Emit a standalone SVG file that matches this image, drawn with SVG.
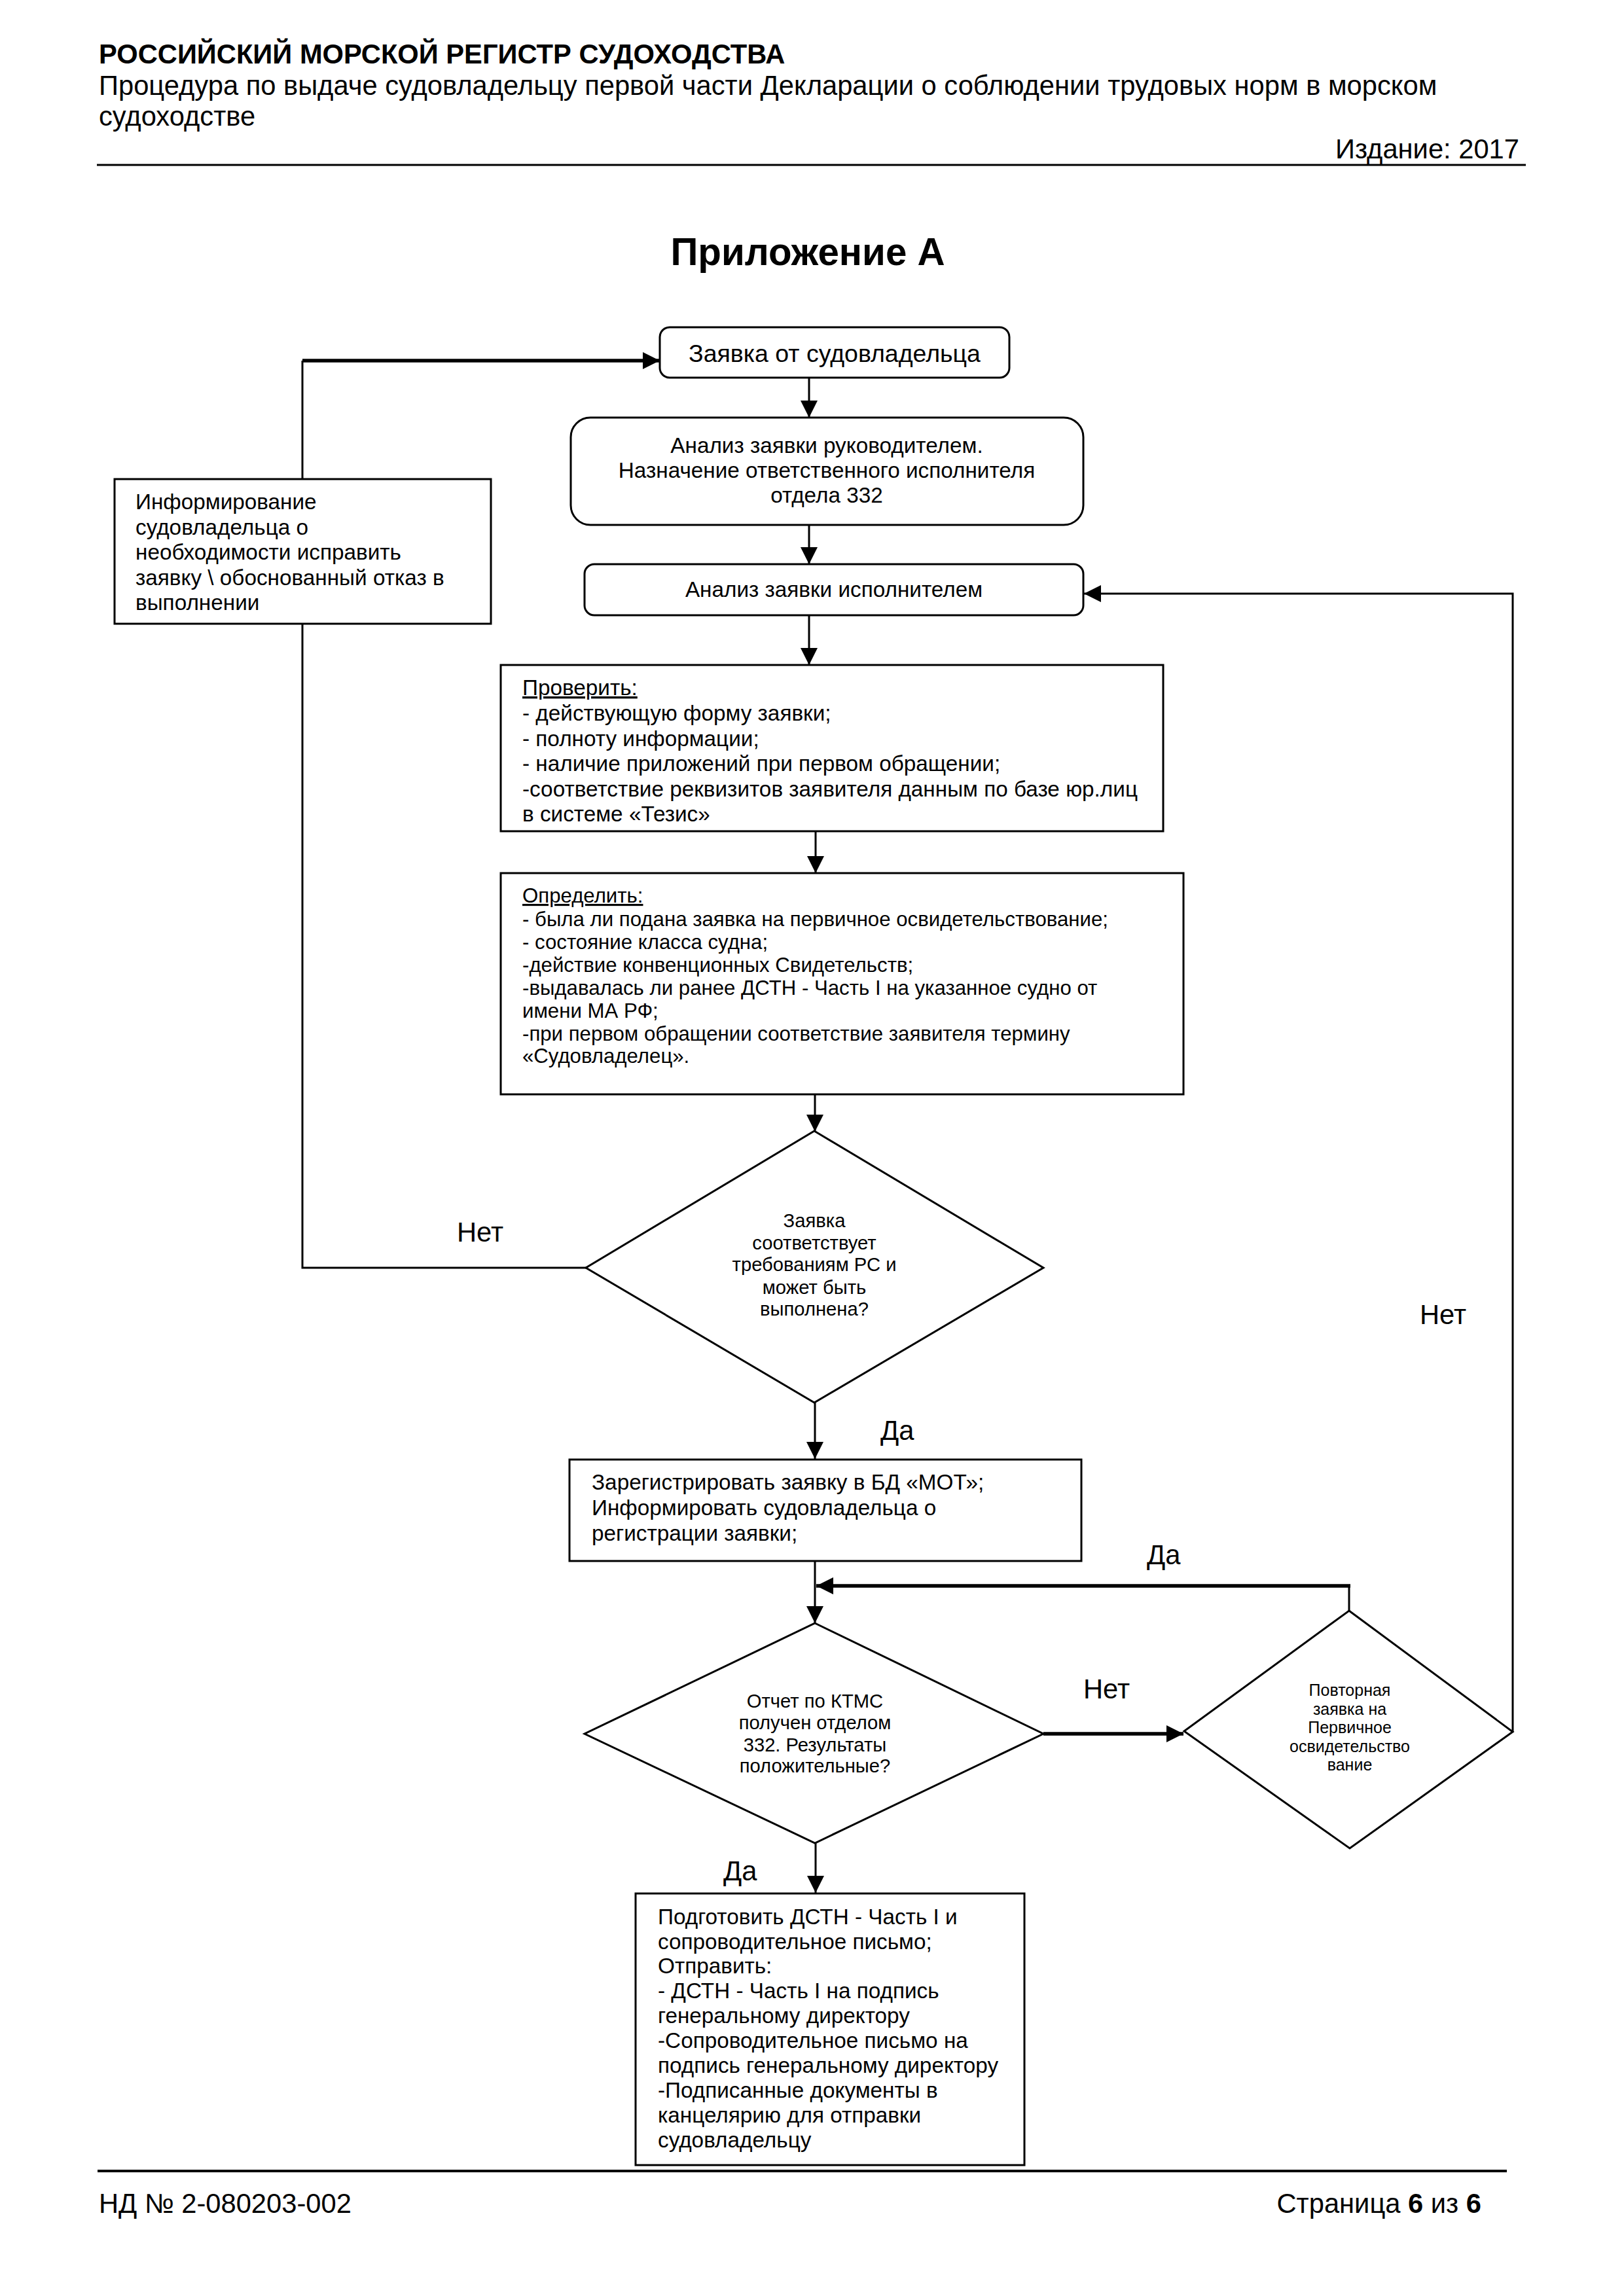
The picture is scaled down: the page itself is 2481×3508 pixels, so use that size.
<svg xmlns="http://www.w3.org/2000/svg" width="2481" height="3508" viewBox="0 0 2481 3508">
<style>
  text { font-family: "Liberation Sans", Arial, sans-serif; fill: #000; }
  .hdr { font-size: 41.7px; }
  .hb { font-size: 41.7px; font-weight: bold; }
  .t9 { font-size: 37.5px; }
  .t8 { font-size: 33.3px; }
  .t75 { font-size: 31.2px; }
  .t7 { font-size: 29.2px; }
  .t6 { font-size: 25px; }
  .lbl { font-size: 41.7px; }
  .mid { text-anchor: middle; }
  .box { fill: #fff; stroke: #000; stroke-width: 3; }
  .ln { fill: none; stroke: #000; stroke-width: 3; }
  .thick { fill: none; stroke: #000; stroke-width: 5.5; }
  .rule { stroke: #000; }
</style>
<defs>
  <marker id="arr" viewBox="0 0 26 26" refX="26" refY="13" markerWidth="26" markerHeight="26" markerUnits="userSpaceOnUse" orient="auto">
    <path d="M0,0 L26,13 L0,26 z" fill="#000"/>
  </marker>
</defs>
<rect width="2481" height="3508" fill="#fff"/>

<g id="header">
  <text class="hb" x="151" y="97">РОССИЙСКИЙ МОРСКОЙ РЕГИСТР СУДОХОДСТВА</text>
  <text class="hdr" x="151" y="145">Процедура по выдаче судовладельцу первой части Декларации о соблюдении трудовых норм в морском</text>
  <text class="hdr" x="151" y="192">судоходстве</text>
  <text class="hdr" x="2321" y="242" text-anchor="end">Издание: 2017</text>
  <line class="rule" x1="148" y1="252" x2="2331" y2="252" stroke-width="3"/>
  <text x="1234" y="405" text-anchor="middle" style="font-size:58.3px;font-weight:bold">Приложение А</text>
</g>

<g id="connectors">
  <path class="ln" d="M895,1937 H462 V551"/>
  <path class="thick" d="M462,551 H1008" marker-end="url(#arr)"/>
  <path class="ln" d="M1236,577 V638" marker-end="url(#arr)"/>
  <path class="ln" d="M1236,802 V862" marker-end="url(#arr)"/>
  <path class="ln" d="M1236,940 V1016" marker-end="url(#arr)"/>
  <path class="ln" d="M1246,1270 V1334" marker-end="url(#arr)"/>
  <path class="ln" d="M1245,1672 V1729" marker-end="url(#arr)"/>
  <path class="ln" d="M1245,2143 V2229" marker-end="url(#arr)"/>
  <path class="ln" d="M1245,2385 V2480" marker-end="url(#arr)"/>
  <path class="ln" d="M1246,2816 V2892" marker-end="url(#arr)"/>
  <path class="thick" d="M1594,2649 H1808" marker-end="url(#arr)"/>
  <path class="ln" d="M2061,2461 V2423"/>
  <path class="thick" d="M2063,2423 H1247" marker-end="url(#arr)"/>
  <path class="ln" d="M2311,2647 V907 H1656" marker-end="url(#arr)"/>
</g>

<g id="labels">
  <text class="lbl" x="698" y="1897">Нет</text>
  <text class="lbl" x="1345" y="2200">Да</text>
  <text class="lbl" x="1752" y="2390">Да</text>
  <text class="lbl" x="1655" y="2595">Нет</text>
  <text class="lbl" x="2169" y="2023">Нет</text>
  <text class="lbl" x="1105" y="2873">Да</text>
</g>

<g id="n-request">
  <rect class="box" x="1008" y="500" width="534" height="77" rx="15"/>
  <text class="t9 mid" x="1275" y="553">Заявка от судовладельца</text>
</g>

<g id="n-head-analysis">
  <rect class="box" x="872" y="638" width="783" height="164" rx="30"/>
  <text class="t8 mid" x="1263" y="692">Анализ заявки руководителем.</text>
  <text class="t8 mid" x="1263" y="730">Назначение ответственного исполнителя</text>
  <text class="t8 mid" x="1263" y="768">отдела 332</text>
</g>

<g id="n-exec-analysis">
  <rect class="box" x="893" y="862" width="762" height="78" rx="15"/>
  <text class="t8 mid" x="1274" y="912">Анализ заявки исполнителем</text>
</g>

<g id="n-inform">
  <rect class="box" x="175" y="732" width="575" height="221"/>
  <text class="t8" x="207" y="778">Информирование</text>
  <text class="t8" x="207" y="816.5">судовладельца о</text>
  <text class="t8" x="207" y="855">необходимости исправить</text>
  <text class="t8" x="207" y="893.5">заявку \ обоснованный отказ в</text>
  <text class="t8" x="207" y="932">выполнении</text>
</g>

<g id="n-check">
  <rect class="box" x="765" y="1016" width="1012" height="254"/>
  <text class="t8" x="798" y="1062" text-decoration="underline">Проверить:</text>
  <text class="t8" x="798" y="1101">- действующую форму заявки;</text>
  <text class="t8" x="798" y="1140">- полноту информации;</text>
  <text class="t8" x="798" y="1178">- наличие приложений при первом обращении;</text>
  <text class="t8" x="798" y="1217">-соответствие реквизитов заявителя данным по базе юр.лиц</text>
  <text class="t8" x="798" y="1255">в системе «Тезис»</text>
</g>

<g id="n-determine">
  <rect class="box" x="765" y="1334" width="1043" height="338"/>
  <text class="t75" x="798" y="1379" text-decoration="underline">Определить:</text>
  <text class="t75" x="798" y="1415">- была ли подана заявка на первичное освидетельствование;</text>
  <text class="t75" x="798" y="1450">- состояние класса судна;</text>
  <text class="t75" x="798" y="1485">-действие конвенционных Свидетельств;</text>
  <text class="t75" x="798" y="1520">-выдавалась ли ранее ДСТН - Часть I на указанное судно от</text>
  <text class="t75" x="798" y="1555">имени МА РФ;</text>
  <text class="t75" x="798" y="1590">-при первом обращении соответствие заявителя термину</text>
  <text class="t75" x="798" y="1624">«Судовладелец».</text>
</g>

<g id="d-requirements">
  <polygon class="box" points="1244,1728 1594,1937 1244,2143 895,1937"/>
  <text class="t7 mid" x="1244" y="1875">Заявка</text>
  <text class="t7 mid" x="1244" y="1909">соответствует</text>
  <text class="t7 mid" x="1244" y="1942">требованиям РС и</text>
  <text class="t7 mid" x="1244" y="1977">может быть</text>
  <text class="t7 mid" x="1244" y="2010">выполнена?</text>
</g>

<g id="n-register">
  <rect class="box" x="870" y="2230" width="782" height="155"/>
  <text class="t8" x="904" y="2276">Зарегистрировать заявку в БД «МОТ»;</text>
  <text class="t8" x="904" y="2315">Информировать судовладельца о</text>
  <text class="t8" x="904" y="2354">регистрации заявки;</text>
</g>

<g id="d-report">
  <polygon class="box" points="1245,2480 1594,2649 1245,2816 893,2649"/>
  <text class="t7 mid" x="1245" y="2609">Отчет по КТМС</text>
  <text class="t7 mid" x="1245" y="2642">получен отделом</text>
  <text class="t7 mid" x="1245" y="2676">332. Результаты</text>
  <text class="t7 mid" x="1245" y="2708">положительные?</text>
</g>

<g id="d-repeat">
  <polygon class="box" points="2061,2461 2311,2646 2062,2824 1809,2645"/>
  <text class="t6 mid" x="2062" y="2591">Повторная</text>
  <text class="t6 mid" x="2062" y="2620">заявка на</text>
  <text class="t6 mid" x="2062" y="2648">Первичное</text>
  <text class="t6 mid" x="2062" y="2677">освидетельство</text>
  <text class="t6 mid" x="2062" y="2705">вание</text>
</g>

<g id="n-prepare">
  <rect class="box" x="971" y="2893" width="594" height="415"/>
  <text class="t8" x="1005" y="2940">Подготовить ДСТН - Часть I и</text>
  <text class="t8" x="1005" y="2978">сопроводительное письмо;</text>
  <text class="t8" x="1005" y="3015">Отправить:</text>
  <text class="t8" x="1005" y="3053">- ДСТН - Часть I на подпись</text>
  <text class="t8" x="1005" y="3091">генеральному директору</text>
  <text class="t8" x="1005" y="3129">-Сопроводительное письмо на</text>
  <text class="t8" x="1005" y="3167">подпись генеральному директору</text>
  <text class="t8" x="1005" y="3205">-Подписанные документы в</text>
  <text class="t8" x="1005" y="3243">канцелярию для отправки</text>
  <text class="t8" x="1005" y="3281">судовладельцу</text>
</g>

<g id="footer">
  <line class="rule" x1="149" y1="3317" x2="2302" y2="3317" stroke-width="4"/>
  <text class="hdr" x="151" y="3381">НД № 2-080203-002</text>
  <text class="hdr" x="2263" y="3381" text-anchor="end">Страница <tspan font-weight="bold">6</tspan> из <tspan font-weight="bold">6</tspan></text>
</g>
</svg>
